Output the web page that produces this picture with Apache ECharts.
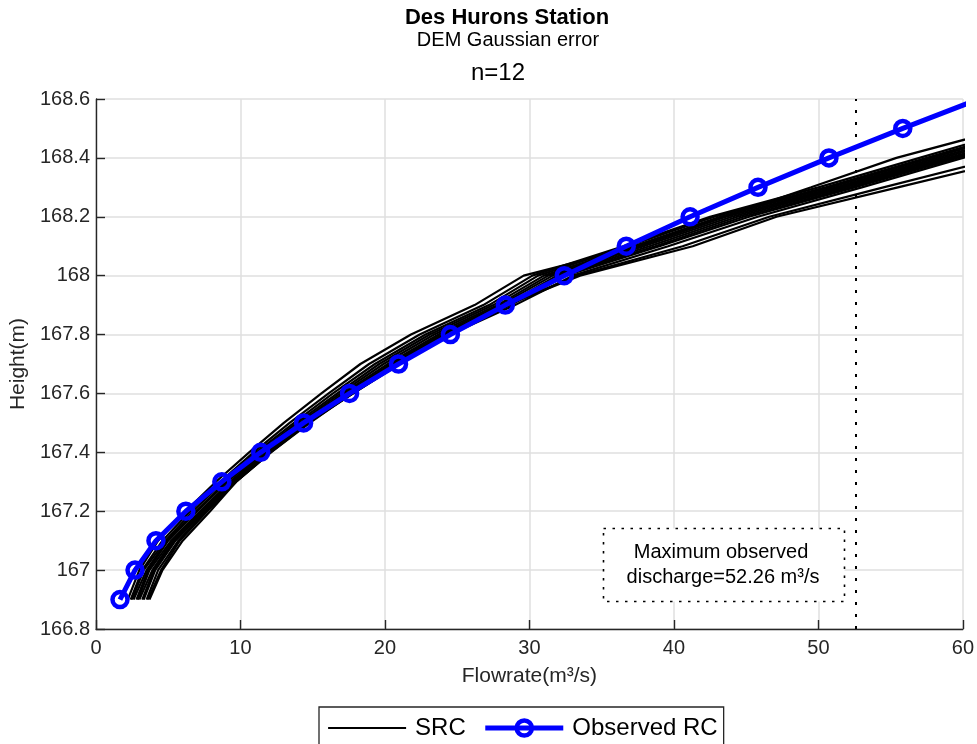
<!DOCTYPE html>
<html>
<head>
<meta charset="utf-8">
<script src="https://cdn.jsdelivr.net/npm/echarts@6/dist/echarts.min.js"></script>
<style>html,body{margin:0;padding:0;background:#fff}#c{width:977px;height:744px}</style>
</head>
<body>
<div id="c"></div>
<script>
// Height levels (m) shared by all rating curves
var heights = [166.9,167.0,167.1,167.2,167.3,167.4,167.5,167.6,167.7,167.8,167.9,168.0,168.1,168.2,168.3,168.4,168.5,168.6];
// Observed rating curve flowrates (m3/s) at each height
var observedQ = [1.66,2.70,4.15,6.22,8.71,11.40,14.37,17.55,20.94,24.53,28.33,32.41,36.70,41.12,45.82,50.73,55.84,61.1];
// Synthetic rating curves (12 DEM realisations), flowrate at each height
var src01 = [2.2,3.0,4.3,6.2,8.3,10.6,13.0,15.6,18.3,21.8,26.2,29.6,37.5,43.5,49.5,55.4,63.0];
var src02 = [2.4,3.2,4.6,6.5,8.6,10.9,13.4,16.1,18.9,22.4,26.8,30.2,36.5,42.5,50.0,57.0,64.0];
var src03 = [2.5,3.3,4.8,6.7,8.8,11.1,13.7,16.4,19.3,22.8,27.2,30.6,36.8,42.8,50.5,57.5,64.5];
var src04 = [2.6,3.5,4.9,6.9,9.0,11.3,13.9,16.7,19.6,23.1,27.5,31.0,37.2,43.2,50.8,57.8,65.0];
var src05 = [2.8,3.6,5.0,7.0,9.1,11.5,14.1,16.9,19.9,23.4,27.8,31.3,37.6,43.6,51.2,58.2,65.5];
var src06 = [2.9,3.7,5.2,7.2,9.3,11.6,14.3,17.1,20.2,23.7,28.0,31.6,37.9,44.0,51.5,58.6,66.0];
var src07 = [3.0,3.9,5.3,7.3,9.4,11.8,14.5,17.3,20.4,23.9,28.3,31.9,38.3,44.4,51.8,59.0,66.5];
var src08 = [3.2,4.0,5.4,7.4,9.5,11.9,14.6,17.5,20.6,24.1,28.5,32.2,38.7,44.8,52.2,59.3,67.0];
var src09 = [3.3,4.1,5.5,7.5,9.6,12.0,14.7,17.6,20.8,24.3,28.7,32.5,39.0,45.2,52.5,59.6,67.5];
var src10 = [3.5,4.3,5.7,7.6,9.7,12.1,14.8,17.7,20.9,24.5,29.0,33.0,39.6,45.8,53.0,60.0,67.0];
var src11 = [3.6,4.5,5.8,7.7,9.7,12.1,14.7,17.8,21.0,24.6,28.4,33.3,40.6,46.6,54.5,62.5,70.0];
var src12 = [3.7,4.6,6.0,7.9,9.7,12.0,14.6,17.8,21.0,24.6,28.4,33.5,41.3,47.1,55.5,64.0,71.0];
var srcCurves = [src01,src02,src03,src04,src05,src06,src07,src08,src09,src10,src11,src12];
var maxObservedQ = 52.6; // position of dotted line
var xTicks = [0,10,20,30,40,50,60];
var yTicks = [166.8,167.0,167.2,167.4,167.6,167.8,168.0,168.2,168.4,168.6];

var FONT = "'Liberation Sans', Arial, Helvetica, sans-serif";
function pairs(qs){ return qs.map(function(q,i){ return [q, heights[i]]; }); }

var series = srcCurves.map(function(c, idx){
  var s = {
    name: 'SRC', type: 'line', data: pairs(c), symbol: 'none', clip: true,
    lineStyle: { color: '#000000', width: 2.2 }, itemStyle: { color: '#000000' },
    z: 2, silent: true, animation: false
  };
  if (idx === 0) {
    s.markLine = {
      silent: true, symbol: 'none', label: { show: false },
      lineStyle: { color: '#000000', width: 2, type: [3, 9] },
      data: [{ xAxis: maxObservedQ }]
    };
  }
  return s;
});
series.push({
  name: 'Observed RC', type: 'line', data: pairs(observedQ), clip: true,
  symbol: 'circle', symbolSize: 15, showAllSymbol: true,
  lineStyle: { color: '#0000ff', width: 5 },
  itemStyle: { color: 'rgba(255,255,255,0)', borderColor: '#0000ff', borderWidth: 4.5 },
  emphasis: { disabled: true },
  z: 5, animation: false
});

var chart = echarts.init(document.getElementById('c'), null, { renderer: 'canvas' });
chart.setOption({
  backgroundColor: '#ffffff',
  animation: false,
  textStyle: { fontFamily: FONT },
  grid: { left: 96, right: 14, top: 99, bottom: 115, containLabel: false },
  xAxis: {
    type: 'value', min: xTicks[0], max: xTicks[xTicks.length-1], interval: 10,
    name: 'Flowrate(m³/s)', nameLocation: 'middle', nameGap: 37,
    nameTextStyle: { fontSize: 21, color: '#262626', fontFamily: FONT },
    axisLine: { show: true, onZero: false, lineStyle: { color: '#262626', width: 1.4 } },
    axisTick: { show: true, inside: true, length: 9, lineStyle: { color: '#262626', width: 1.4 } },
    axisLabel: { fontSize: 20, color: '#262626', margin: 9, fontFamily: FONT },
    splitLine: { show: true, lineStyle: { color: '#dfdfdf', width: 1.5 } }
  },
  yAxis: {
    type: 'value', min: yTicks[0], max: yTicks[yTicks.length-1], interval: 0.2,
    name: 'Height(m)', nameLocation: 'middle', nameGap: 55, nameRotate: 90,
    nameTextStyle: { fontSize: 21, color: '#262626', fontFamily: FONT },
    axisLine: { show: true, lineStyle: { color: '#262626', width: 1.4 } },
    axisTick: { show: true, inside: true, length: 9, lineStyle: { color: '#262626', width: 1.4 } },
    axisLabel: { fontSize: 20, color: '#262626', margin: 6, fontFamily: FONT,
      formatter: function(v){ return String(Math.round(v*10)/10); } },
    splitLine: { show: true, lineStyle: { color: '#dfdfdf', width: 1.5 } }
  },
  legend: {
    data: [
      { name: 'SRC', itemStyle: { color: 'rgba(0,0,0,0)', borderWidth: 0, opacity: 0 },
        lineStyle: { color: '#000000', width: 2.2 } },
      { name: 'Observed RC', lineStyle: { color: '#0000ff', width: 5 },
        itemStyle: { color: 'rgba(255,255,255,0)', borderColor: '#0000ff', borderWidth: 4.5 } }
    ],
    left: 319, top: 707,
    orient: 'horizontal', itemWidth: 78, itemHeight: 19, itemGap: 17,
    padding: [9, 6, 14, 8], borderColor: '#262626', borderWidth: 1.3,
    backgroundColor: '#ffffff',
    textStyle: { fontSize: 24, color: '#000000', fontFamily: FONT, padding: [0,0,0,4] }
  },
  graphic: [
    { type: 'text', x: 507, y: 18, style: { text: 'Des Hurons Station', font: 'bold 22px ' + FONT, fill: '#000', textAlign: 'center', textVerticalAlign: 'middle' } },
    { type: 'text', x: 508, y: 40, style: { text: 'DEM Gaussian error', font: '20px ' + FONT, fill: '#000', textAlign: 'center', textVerticalAlign: 'middle' } },
    { type: 'text', x: 498, y: 73, style: { text: 'n=12', font: '24px ' + FONT, fill: '#000', textAlign: 'center', textVerticalAlign: 'middle' } },
    { type: 'rect', z: 50, shape: { x: 603.5, y: 528.5, width: 241, height: 73 },
      style: { fill: '#ffffff', stroke: '#000000', lineWidth: 1.6, lineDash: [2.5, 6.5] } },
    { type: 'text', z: 51, x: 721, y: 552, style: { text: 'Maximum observed', font: '20px ' + FONT, fill: '#000', textAlign: 'center', textVerticalAlign: 'middle' } },
    { type: 'text', z: 51, x: 723, y: 577, style: { text: 'discharge=52.26 m³/s', font: '20px ' + FONT, fill: '#000', textAlign: 'center', textVerticalAlign: 'middle' } }
  ],
  series: series
});
</script>
</body>
</html>
